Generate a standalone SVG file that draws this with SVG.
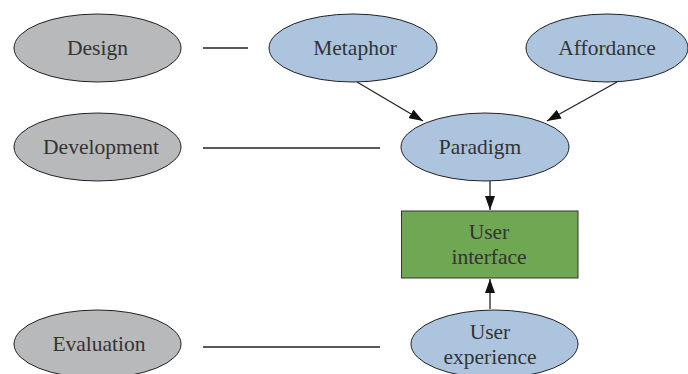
<svg xmlns="http://www.w3.org/2000/svg" width="688" height="374" viewBox="0 0 688 374">
<style>
.g{fill:#b8b9ba;stroke:#222;stroke-width:1}
.b{fill:#adc4df;stroke:#222;stroke-width:1}
.r{fill:#70a752;stroke:#333;stroke-width:1}
text{font-family:"Liberation Serif","Times New Roman","DejaVu Serif",serif;font-size:21.5px;fill:#333;text-anchor:middle}
.c line{stroke:#222;stroke-width:1.5}
</style>
<defs>
<marker id="ah" viewBox="0 0 14 10" refX="14" refY="5" markerWidth="14" markerHeight="10" orient="auto" markerUnits="userSpaceOnUse">
<path d="M0,0L14,5L0,10z" fill="#111"/>
</marker>
</defs>
<rect width="688" height="374" fill="#fff"/>
<g class="c" id="connectors">
<line x1="203" y1="48" x2="248" y2="48"/>
<line x1="203" y1="148" x2="380" y2="148"/>
<line x1="203" y1="347" x2="380" y2="347"/>
<line x1="357" y1="82" x2="423" y2="121" marker-end="url(#ah)" style="stroke-width:1.3"/>
<line x1="617" y1="82" x2="547" y2="121" marker-end="url(#ah)" style="stroke-width:1.3"/>
<line x1="490" y1="181" x2="490" y2="210" marker-end="url(#ah)" style="stroke-width:1.3"/>
<line x1="490" y1="309" x2="490" y2="279" marker-end="url(#ah)" style="stroke-width:1.3"/>
</g>
<g id="design"><ellipse class="g" cx="97.5" cy="48" rx="83.5" ry="34"/><text x="97.5" y="55">Design</text></g>
<g id="development"><ellipse class="g" cx="97.5" cy="147" rx="83.5" ry="34"/><text x="101" y="154">Development</text></g>
<g id="evaluation"><ellipse class="g" cx="97.5" cy="344" rx="83.5" ry="34"/><text x="99" y="351">Evaluation</text></g>
<g id="metaphor"><ellipse class="b" cx="353" cy="48" rx="84" ry="34"/><text x="355" y="55">Metaphor</text></g>
<g id="affordance"><ellipse class="b" cx="607" cy="48" rx="81" ry="34"/><text x="607" y="55">Affordance</text></g>
<g id="paradigm"><ellipse class="b" cx="485" cy="147" rx="84" ry="34"/><text x="480" y="154">Paradigm</text></g>
<g id="ui"><rect class="r" x="401.5" y="211" width="176.5" height="67"/><text x="489" y="239">User</text><text x="489" y="264">interface</text></g>
<g id="ux"><ellipse class="b" cx="494.5" cy="344" rx="83.5" ry="34"/><text x="490" y="339">User</text><text x="490" y="364">experience</text></g>
</svg>
